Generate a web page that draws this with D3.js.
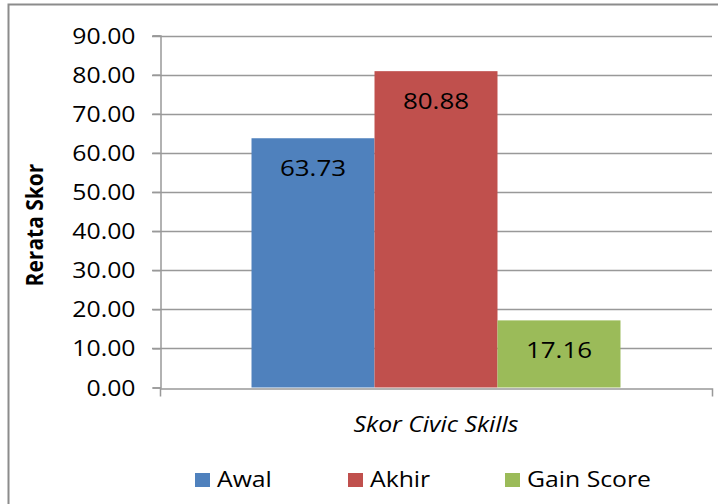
<!DOCTYPE html>
<meta charset="utf-8">
<script src="https://d3js.org/d3.v7.min.js"></script>
<style>
  body { margin: 0; background: #fff; }
  text { font-family: "Open Sans", "Noto Sans", sans-serif; fill: #000; }
</style>
<div id="my_dataviz"></div>
<script>

// data
var category = "Skor Civic Skills";
var seriesNames = ["Awal", "Akhir", "Gain Score"];
var seriesValues = [63.73, 80.88, 17.16];
var seriesColors = ["#4F81BD", "#C0504D", "#9BBB59"];
var yTicks = [0, 10, 20, 30, 40, 50, 60, 70, 80, 90];

var W = 718, H = 504;
var plotLeft = 160, plotRight = 712, plotTop = 35.5, plotBottom = 387.5;
var K = 1.18; // the original picture is stretched sideways

var svg = d3.select("#my_dataviz")
  .append("svg")
    .attr("width", W)
    .attr("height", H);

// put a text at (x,y) and stretch it sideways like the original
function placeText(sel, x, y) {
  sel.attr("transform", function(d, i) {
      var px = typeof x === "function" ? x(d, i) : x;
      var py = typeof y === "function" ? y(d, i) : y;
      return "translate(" + px + "," + py + ") scale(" + K + ",1)";
    })
    .attr("x", 0).attr("y", 0);
}

// outer chart border (bottom and right are cut off in the original)
svg.append("rect")
  .attr("x", 8.5).attr("y", 4.5)
  .attr("width", 740).attr("height", 540)
  .attr("fill", "none")
  .attr("stroke", "#8c8c8c")
  .attr("stroke-width", 2);

var y = d3.scaleLinear()
  .domain([0, 90])
  .range([plotBottom, plotTop]);

var x0 = d3.scaleBand()
  .domain([category])
  .range([plotLeft, plotRight])
  .paddingOuter(0.248);

var x1 = d3.scaleBand()
  .domain(seriesNames)
  .range([0, x0.bandwidth()]);

// gridlines
svg.append("g")
  .selectAll("line")
  .data(yTicks.filter(function(d) { return d > 0; }))
  .enter()
  .append("line")
    .attr("x1", plotLeft - 8)
    .attr("x2", plotRight)
    .attr("y1", function(d) { return Math.round(y(d)) + 0.5; })
    .attr("y2", function(d) { return Math.round(y(d)) + 0.5; })
    .attr("stroke", "#999")
    .attr("stroke-width", 1.5);

// bars
svg.append("g")
  .selectAll("rect")
  .data(seriesNames)
  .enter()
  .append("rect")
    .attr("x", function(d) { return x0(category) + x1(d); })
    .attr("y", function(d, i) { return y(seriesValues[i]); })
    .attr("width", x1.bandwidth())
    .attr("height", function(d, i) { return y(0) - y(seriesValues[i]); })
    .attr("fill", function(d, i) { return seriesColors[i]; });

// value labels
svg.append("g")
  .selectAll("text")
  .data(seriesNames)
  .enter()
  .append("text")
    .attr("text-anchor", "middle")
    .style("font-size", "22px")
    .text(function(d, i) { return seriesValues[i].toFixed(2); })
    .call(placeText,
      function(d) { return x0(category) + x1(d) + x1.bandwidth() / 2; },
      function(d, i) { return y(seriesValues[i]) + 38; });

// Y axis
var yAxis = svg.append("g")
  .attr("transform", "translate(" + (plotLeft + 0.5) + ",0)")
  .call(d3.axisLeft(y).tickValues(yTicks).tickFormat(d3.format(".2f")).tickSize(8));
yAxis.select(".domain").attr("stroke", "#999").attr("stroke-width", 1.5);
yAxis.selectAll(".tick line").attr("stroke", "#999").attr("stroke-width", 1.5);
yAxis.selectAll(".tick text")
  .style("font-size", "21px")
  .attr("fill", "#000")
  .attr("dy", null)
  .call(placeText, -25, 7.5);

// X axis
var xAxis = svg.append("g")
  .attr("transform", "translate(0," + (Math.round(plotBottom) + 0.5) + ")")
  .call(d3.axisBottom(x0).tickValues([]).tickSizeOuter(8));
xAxis.select(".domain").attr("stroke", "#999").attr("stroke-width", 1.5);

// axis titles
svg.append("text")
  .attr("transform", "translate(43,225) rotate(-90) scale(1,1.12)")
  .attr("text-anchor", "middle")
  .style("font-size", "21px")
  .style("font-weight", "bold")
  .text("Rerata Skor");

svg.append("text")
  .attr("text-anchor", "middle")
  .style("font-size", "21px")
  .style("font-style", "italic")
  .text(category)
  .call(placeText, (plotLeft + plotRight) / 2, 432);

// legend
var legendX = [195, 348, 505];
var legend = svg.append("g")
  .selectAll("g")
  .data(seriesNames)
  .enter()
  .append("g")
    .attr("transform", function(d, i) { return "translate(" + legendX[i] + ",473)"; });
legend.append("rect")
  .attr("width", 15).attr("height", 14)
  .attr("fill", function(d, i) { return seriesColors[i]; });
legend.append("text")
  .style("font-size", "21px")
  .text(function(d) { return d; })
  .call(placeText, 22, 14);

</script>
